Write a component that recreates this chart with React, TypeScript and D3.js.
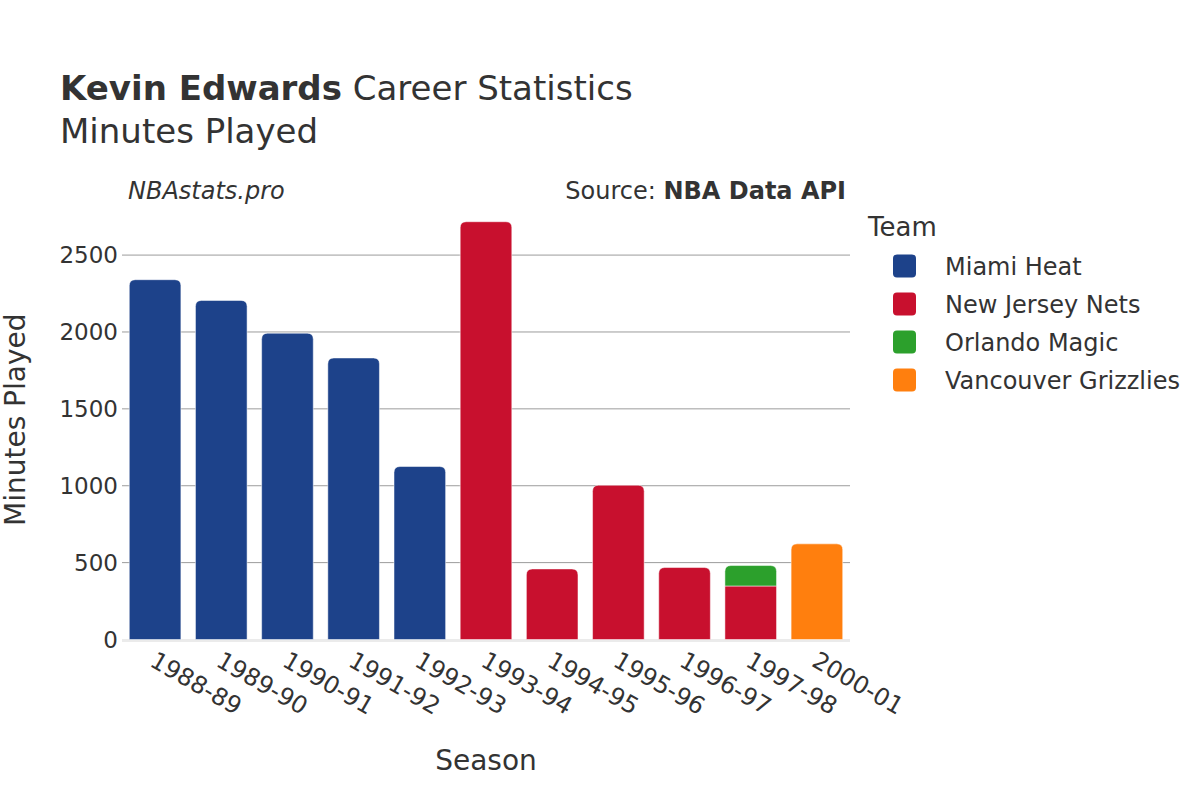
import * as d3 from "d3";
import { useEffect, useRef } from "react";

// Season categories along the x axis
const seasons = [
  "1988-89", "1989-90", "1990-91", "1991-92", "1992-93", "1993-94",
  "1994-95", "1995-96", "1996-97", "1997-98", "2000-01",
];

const teams = ["Miami Heat", "New Jersey Nets", "Orlando Magic", "Vancouver Grizzlies"];
const teamColors = ["#1d428a", "#c8102e", "#2ca02c", "#ff7f0e"];

// Minutes per season for each team (0 = did not play for that team)
const miamiHeat = [2340, 2205, 1992, 1831, 1125, 0, 0, 0, 0, 0, 0];
const newJerseyNets = [0, 0, 0, 0, 0, 2717, 459, 1003, 468, 348, 0];
const orlandoMagic = [0, 0, 0, 0, 0, 0, 0, 0, 0, 133, 0];
const vancouverGrizzlies = [0, 0, 0, 0, 0, 0, 0, 0, 0, 0, 622];

const yTicks = [0, 500, 1000, 1500, 2000, 2500];

const App = () => {
  const ref = useRef<SVGSVGElement | null>(null);

  useEffect(() => {
    if (!ref.current) return;
    const svg = d3.select(ref.current);
    svg.selectAll("*").remove();

    const width = 1200;
    const height = 800;
    const left = 122;
    const right = 850;
    const top = 200;
    const bottom = 639.5;
    const textColor = "#333";
    const font = "'DejaVu Sans', sans-serif";

    svg.attr("width", width).attr("height", height).style("font-family", font);

    const series = [miamiHeat, newJerseyNets, orlandoMagic, vancouverGrizzlies];
    const totals = seasons.map((_, i) => d3.sum(series, (s) => s[i]));

    const x = d3.scaleBand().domain(seasons).range([left, right]).paddingInner(0.22).paddingOuter(0.11);
    const y = d3.scaleLinear().domain([0, d3.max(totals)! * 1.052]).range([bottom, top]);

    // gridlines
    const grid = svg.append("g");
    grid
      .selectAll("line")
      .data(yTicks.filter((t) => t > 0))
      .join("line")
      .attr("x1", left)
      .attr("x2", right)
      .attr("y1", (d) => y(d))
      .attr("y2", (d) => y(d))
      .attr("stroke", "#9c9c9c")
      .attr("stroke-width", 1);

    // zero line
    svg
      .append("line")
      .attr("x1", left)
      .attr("x2", right)
      .attr("y1", y(0) + 1)
      .attr("y2", y(0) + 1)
      .attr("stroke", "#ebebeb")
      .attr("stroke-width", 3);

    // y tick labels
    svg
      .append("g")
      .selectAll("text")
      .data(yTicks)
      .join("text")
      .attr("x", left - 4)
      .attr("y", (d) => y(d))
      .attr("dy", "0.36em")
      .attr("text-anchor", "end")
      .attr("font-size", 23)
      .attr("fill", textColor)
      .text((d) => d);

    // stacked bars with rounded top on the topmost segment
    const radius = 6;
    const barPath = (x0: number, w: number, y0: number, y1: number, round: boolean) => {
      const h = y0 - y1;
      const r = round ? Math.min(radius, h, w / 2) : 0;
      return `M${x0},${y0}V${y1 + r}Q${x0},${y1} ${x0 + r},${y1}H${x0 + w - r}Q${x0 + w},${y1} ${x0 + w},${y1 + r}V${y0}Z`;
    };

    const gBars = svg.append("g");
    seasons.forEach((season, i) => {
      let base = 0;
      const active = series.map((s, k) => ({ k, v: s[i] })).filter((d) => d.v > 0);
      active.forEach((d, j) => {
        const y0 = y(base);
        const y1 = y(base + d.v);
        gBars
          .append("path")
          .attr("d", barPath(x(season)!, x.bandwidth(), y0, y1, j === active.length - 1))
          .attr("fill", teamColors[d.k])
          .attr("stroke", "#ffffff")
          .attr("stroke-opacity", 0.5)
          .attr("stroke-width", 1);
        base += d.v;
      });
    });

    // x tick labels, rotated
    svg
      .append("g")
      .selectAll("text")
      .data(seasons)
      .join("text")
      .attr("transform", (d) => `translate(${x(d)! + x.bandwidth() / 2 + 2},${bottom + 11}) rotate(30)`)
      .attr("dy", "0.71em")
      .attr("text-anchor", "start")
      .attr("font-size", 24)
      .attr("fill", textColor)
      .text((d) => d);

    // axis titles
    svg
      .append("text")
      .attr("x", (left + right) / 2)
      .attr("y", 770)
      .attr("text-anchor", "middle")
      .attr("font-size", 28)
      .attr("fill", textColor)
      .text("Season");

    svg
      .append("text")
      .attr("transform", `translate(25,${(top + bottom) / 2}) rotate(-90)`)
      .attr("text-anchor", "middle")
      .attr("font-size", 28)
      .attr("fill", textColor)
      .text("Minutes Played");

    // titles
    const title = svg.append("text").attr("x", 60).attr("y", 100).attr("font-size", 34).attr("fill", textColor);
    title.append("tspan").attr("font-weight", "bold").text("Kevin Edwards");
    title.append("tspan").text(" Career Statistics");

    svg.append("text").attr("x", 60).attr("y", 143).attr("font-size", 34).attr("fill", textColor).text("Minutes Played");

    svg
      .append("text")
      .attr("x", 128)
      .attr("y", 199)
      .attr("font-size", 24)
      .attr("font-style", "italic")
      .attr("fill", textColor)
      .text("NBAstats.pro");

    const source = svg
      .append("text")
      .attr("x", 846)
      .attr("y", 199)
      .attr("text-anchor", "end")
      .attr("font-size", 24)
      .attr("fill", textColor);
    source.append("tspan").text("Source: ");
    source.append("tspan").attr("font-weight", "bold").text("NBA Data API");

    // legend
    const legend = svg.append("g");
    legend
      .append("text")
      .attr("x", 868)
      .attr("y", 236)
      .attr("font-size", 26)
      .attr("fill", textColor)
      .text("Team");

    const item = legend
      .selectAll("g.item")
      .data(teams)
      .join("g")
      .attr("class", "item")
      .attr("transform", (_d, i) => `translate(0,${266 + i * 38})`);

    item
      .append("rect")
      .attr("x", 893)
      .attr("y", -11.5)
      .attr("width", 23)
      .attr("height", 23)
      .attr("rx", 4)
      .attr("fill", (_d, i) => teamColors[i]);

    item
      .append("text")
      .attr("x", 945)
      .attr("dy", "0.36em")
      .attr("font-size", 24)
      .attr("fill", textColor)
      .text((d) => d);
  }, []);

  return <svg ref={ref} style={{ display: "block", position: "absolute", left: 0, top: 0 }} />;
};

export default App;
